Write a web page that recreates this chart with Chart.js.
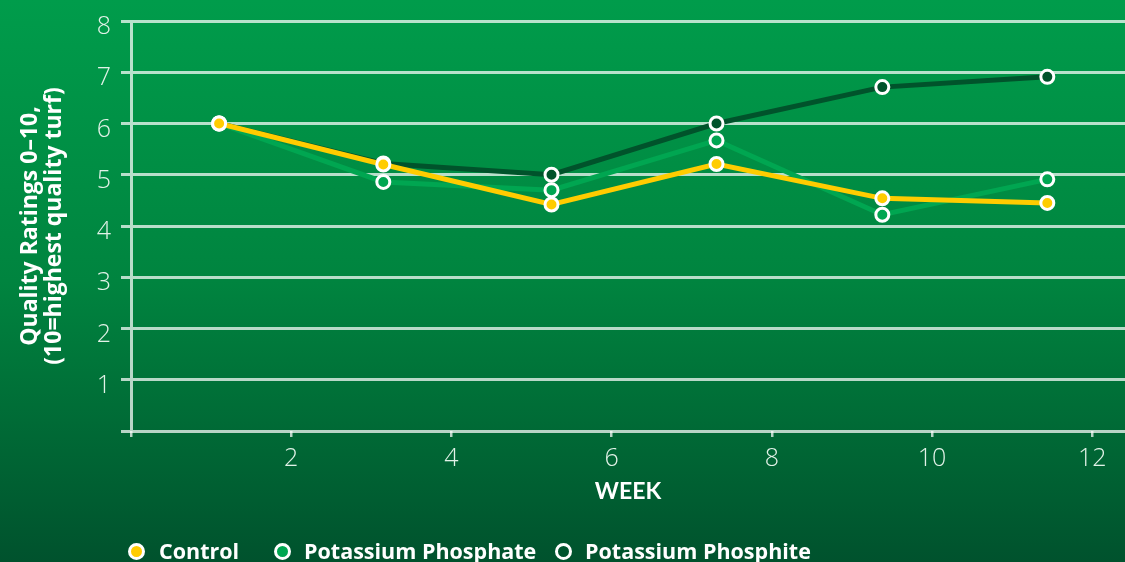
<!DOCTYPE html>
<html><head><meta charset="utf-8">
<script src="https://cdn.jsdelivr.net/npm/chart.js@4.4.0/dist/chart.umd.min.js"></script>
<style>
html,body{margin:0;padding:0;width:1125px;height:562px;overflow:hidden;}
body{background:linear-gradient(to bottom,#009c4b 0%,#00843f 50%,#00522d 100%);}
#wrap{position:relative;width:1125px;height:562px;}
canvas{position:absolute;left:0;top:0;}
.lg{position:absolute;color:#fff;font:700 21.5px "Open Sans",sans-serif;white-space:nowrap;line-height:22px;top:540px;}
.dot{position:absolute;top:543px;width:17px;height:17px;box-sizing:border-box;border:3px solid #fff;border-radius:50%;}
</style></head>
<body><div id="wrap"><canvas id="c" width="1125" height="562"></canvas><div id="legend"></div></div>
<script>
const weeks = [1.1, 3.15, 5.25, 7.31, 9.38, 11.44];
const controlRatings = [6.0, 5.2, 4.42, 5.21, 4.54, 4.45];
const phosphateRatings = [6.0, 4.86, 4.7, 5.67, 4.22, 4.91];
const phosphiteRatings = [6.0, 5.22, 5.0, 6.0, 6.71, 6.91];
const seriesNames = ['Control', 'Potassium Phosphate', 'Potassium Phosphite'];
const seriesColors = ['#ffcc00', '#00a651', '#00532b'];
const xTickValues = [0, 2, 4, 6, 8, 10, 12];
const yTickValues = [0, 1, 2, 3, 4, 5, 6, 7, 8];
const xTitle = 'WEEK';
const yTitle = ['Quality Ratings 0–10,', '(10=highest quality turf)'];

const allSeries = [controlRatings, phosphateRatings, phosphiteRatings];
const gridCol = 'rgba(255,255,255,0.72)';

const datasets = allSeries.map((vals, i) => ({
  label: seriesNames[i],
  data: weeks.map((w, j) => ({x: w, y: vals[j]})),
  borderColor: seriesColors[i],
  backgroundColor: seriesColors[i],
  borderWidth: 5,
  pointRadius: 6.5,
  pointBorderWidth: 3,
  pointBorderColor: '#ffffff',
  pointBackgroundColor: seriesColors[i],
  tension: 0
}));

new Chart(document.getElementById('c'), {
  type: 'line',
  data: {datasets},
  options: {
    responsive: false,
    animation: false,
    devicePixelRatio: 1,
    layout: {autoPadding: false, padding: {top: 21, left: 0, right: 0, bottom: 0}},
    plugins: {legend: {display: false}, tooltip: {enabled: false}},
    scales: {
      x: {
        type: 'linear',
        min: 0, max: 12.41,
        afterBuildTicks: s => { s.ticks = xTickValues.map(v => ({value: v})); },
        afterFit: s => { s.height = 131; s.paddingLeft = 0; s.paddingRight = 0; },
        grid: {drawOnChartArea: false, drawTicks: true, tickLength: 6, color: gridCol, lineWidth: 2.5},
        border: {display: false},
        ticks: {
          callback: v => v === 0 ? '' : String(v),
          color: '#e2f2e8', padding: 7,
          font: {family: 'Open Sans', weight: '300', size: 25}
        },
        title: {
          display: true, text: xTitle, color: '#ffffff',
          font: {family: 'Lato', weight: '700', size: 23},
          padding: {top: 0, bottom: 57}
        }
      },
      y: {
        type: 'linear',
        min: 0, max: 8,
        z: 1,
        afterBuildTicks: s => { s.ticks = yTickValues.map(v => ({value: v})); },
        afterFit: s => { s.width = 131; s.paddingTop = 0; s.paddingBottom = 0; },
        grid: {color: gridCol, lineWidth: 3, tickLength: 10, drawTicks: true},
        border: {display: true, color: gridCol, width: 3},
        ticks: {
          callback: v => v === 0 ? '' : String(v),
          color: '#e2f2e8', padding: 10, labelOffset: 6,
          font: {family: 'Open Sans', weight: '300', size: 25}
        },
        title: {
          display: true, text: yTitle, color: '#ffffff',
          font: {family: 'Open Sans', weight: '700', size: 23, lineHeight: 1.05},
          padding: {top: 18, bottom: 0}
        }
      }
    }
  }
});

// HTML legend
const legendPos = [[128, 159], [274, 304], [555, 585]];
const lg = document.getElementById('legend');
seriesNames.forEach((name, i) => {
  const d = document.createElement('div');
  d.className = 'dot';
  d.style.left = legendPos[i][0] + 'px';
  d.style.background = i === 2 ? 'transparent' : seriesColors[i];
  lg.appendChild(d);
  const t = document.createElement('div');
  t.className = 'lg';
  t.style.left = legendPos[i][1] + 'px';
  t.textContent = name;
  lg.appendChild(t);
});
</script>
</body></html>
